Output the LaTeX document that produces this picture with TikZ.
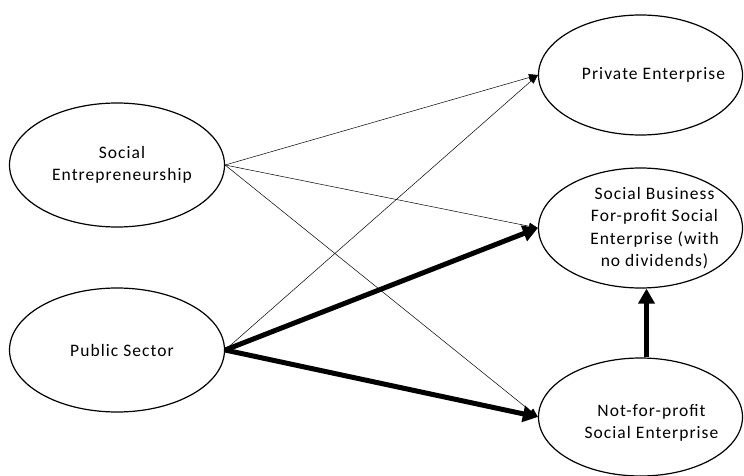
\documentclass[tikz,border=0pt]{standalone}
\usepackage{fontspec}
\setmainfont[LetterSpace=6]{Carlito}
\usetikzlibrary{shapes.geometric,arrows.meta}
\begin{document}
\begin{tikzpicture}[x=1pt,y=-1pt,
  oval/.style={draw,ellipse,line width=1.2pt,inner sep=0pt},
  lbl/.style={font=\fontsize{17.5}{22.5}\selectfont,align=center},
  thin/.style={line width=0.5pt,-{Triangle[length=9pt,width=7pt]}},
  thick/.style={line width=5pt,-{Triangle[length=15pt,width=16pt]}}]
\useasboundingbox (0,0) rectangle (744,476);
\fill[white] (0,0) rectangle (744,476);
\node[oval,minimum width=215pt,minimum height=124pt,
  label={[lbl,xshift=5pt]center:Social\\Entrepreneurship}] (se) at (117,165) {};
\node[oval,minimum width=215pt,minimum height=124pt,
  label={[lbl,xshift=5pt]center:Public Sector}] (ps) at (117,350) {};
\node[oval,minimum width=204pt,minimum height=120pt,
  label={[lbl,xshift=13pt]center:Private Enterprise}] (pe) at (640.5,75) {};
\node[oval,minimum width=204pt,minimum height=120pt,
  label={[lbl,xshift=14pt]center:Social Business\\For-profit Social\\Enterprise (with\\no dividends)}] (sb) at (640.5,228) {};
\node[oval,minimum width=204pt,minimum height=118pt,
  label={[lbl,xshift=11pt,yshift=-6pt]center:Not-for-profit\\Social Enterprise}] (nf) at (640.5,417) {};
\draw[thin] (se.east) -- (pe.west);
\draw[thin] (se.east) -- (sb.west);
\draw[thin] (se.east) -- (nf.west);
\draw[thin] (ps.east) -- (pe.west);
\draw[thick] (ps.east) -- (sb.west);
\draw[thick] (ps.east) -- (nf.west);
\draw[thick] ([xshift=6pt]nf.north) -- ([xshift=6pt]sb.south);
\end{tikzpicture}
\end{document}
